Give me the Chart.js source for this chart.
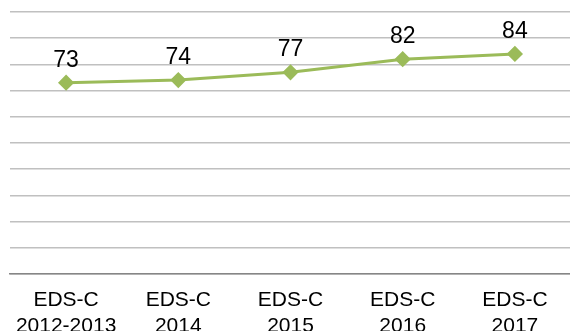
<!DOCTYPE html>
<html>
<head>
<meta charset="utf-8">
<script src="https://cdn.jsdelivr.net/npm/chart.js@4"></script>
<style>
  html, body { margin: 0; padding: 0; background: #fff; overflow: hidden; }
  #wrap { width: 580px; height: 345px; }
</style>
</head>
<body>
<div id="wrap"><canvas id="mychart"></canvas></div>
<script>
// chart data
const categories = [
    ['EDS-C', '2012-2013'],
    ['EDS-C', '2014'],
    ['EDS-C', '2015'],
    ['EDS-C', '2016'],
    ['EDS-C', '2017']
];
const scores = [73, 74, 77, 82, 84];

// draw the value above each point
const valueLabels = {
    id: 'valueLabels',
    afterDatasetsDraw(chart) {
        const ctx = chart.ctx;
        const meta = chart.getDatasetMeta(0);
        ctx.save();
        ctx.font = '23px "Liberation Sans", Arial, sans-serif';
        ctx.fillStyle = '#000';
        ctx.textAlign = 'center';
        ctx.textBaseline = 'alphabetic';
        meta.data.forEach((pt, i) => {
            ctx.fillText(String(scores[i]), pt.x, pt.y - 16);
        });
        ctx.restore();
    }
};

const ctx = document.getElementById('mychart');

new Chart(ctx, {
    type: 'line',
    data: {
        labels: categories,
        datasets: [{
            data: scores,
            borderColor: '#9bbb59',
            backgroundColor: '#9bbb59',
            borderWidth: 3,
            pointStyle: 'rectRot',
            pointRadius: 6,
            pointHoverRadius: 6,
            tension: 0
        }]
    },
    options: {
        responsive: true,
        maintainAspectRatio: false,
        animation: false,
        layout: { padding: { left: 10, top: 12, right: 0, bottom: 0 } },
        plugins: {
            legend: { display: false },
            tooltip: { enabled: false }
        },
        scales: {
            x: {
                offset: true,
                grid: { display: false },
                border: { display: true, color: '#868686', width: 1.5 },
                ticks: {
                    color: '#000',
                    font: { family: '"Liberation Sans", Arial, sans-serif', size: 21, lineHeight: 1.2 },
                    padding: 6,
                    maxRotation: 0,
                    autoSkip: false
                },
                afterFit: s => { s.height = 71; }
            },
            y: {
                min: 0,
                max: 100,
                ticks: { display: false, stepSize: 10 },
                grid: { color: '#c0c0c0', lineWidth: 1.5, drawTicks: false },
                border: { display: false },
                afterFit: s => { s.width = 0; }
            }
        }
    },
    plugins: [valueLabels]
});
</script>
</body>
</html>
